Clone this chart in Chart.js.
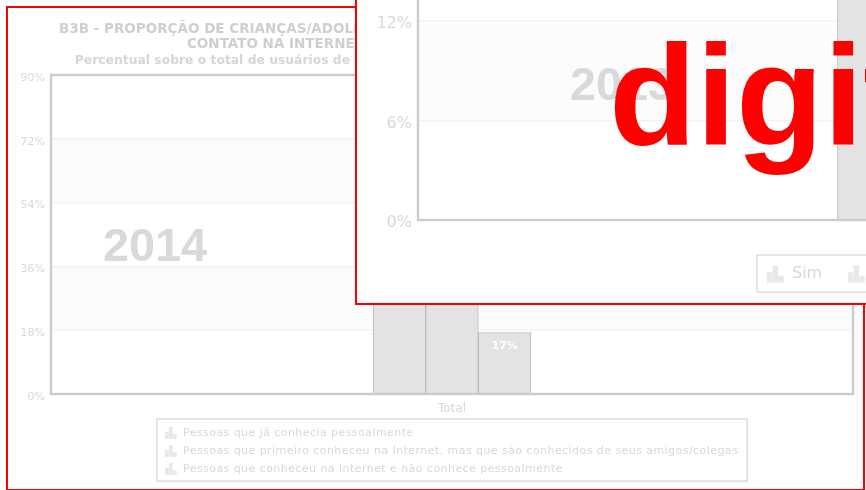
<!DOCTYPE html>
<html><head><meta charset="utf-8">
<script src="https://cdn.jsdelivr.net/npm/chart.js@4"></script>
<style>
html,body{margin:0;padding:0;background:#fff;width:866px;height:490px;overflow:hidden}
.panel{position:absolute;border:2px solid #f00;background:#fff;overflow:hidden;box-sizing:content-box}
#back{left:6px;top:6px;width:855px;height:481px}
#front{left:355px;top:-322px;width:1100px;height:623px}
canvas{display:block}
</style></head><body>
<div class="panel" id="back"><canvas id="c1" width="855" height="481"></canvas></div>
<div class="panel" id="front"><canvas id="c2" width="1100" height="623"></canvas></div>
<script>
const backTitle = ["B3B - PROPORÇÃO DE CRIANÇAS/ADOLESCENTES USUÁRIOS POR PESSOAS COM QUE TEVE ALGUM", "CONTATO NA INTERNET E QUE NÃO CONHECIAM PESSOALMENTE"];
const backSubtitle = "Percentual sobre o total de usuários de Internet de 9 a 17 anos que tiveram contato com tais pessoas";
const categories = ["Total"];
const backLabels = ["Pessoas que já conhecia pessoalmente",
  "Pessoas que primeiro conheceu na Internet, mas que são conhecidos de seus amigos/colegas",
  "Pessoas que conheceu na Internet e não conhece pessoalmente"];
const backValues = [46, 38, 17.3];   // only the third is legible, the others run behind the front panel
const frontLabels = ["Sim", "Não"];
const frontValues = [24, 22];        // tops are outside the picture
const backTicks = {max: 90, step: 18};
const frontTicks = {max: 30, step: 6};

const FILL = '#e3e3e3', EDGE = '#bababa', TXT = '#d8d8d8', AXIS = '#cbcbcb', GRID = '#f2f2f2', BAND = '#fcfcfc';

const decor = {
  id: 'decor',
  beforeDraw(chart, args, o) {
    const {ctx, chartArea: a, scales: {y}} = chart;
    ctx.save();
    ctx.fillStyle = BAND;
    o.bands.forEach(([lo, hi]) => {
      const t = y.getPixelForValue(hi), b = y.getPixelForValue(lo);
      ctx.fillRect(a.left, t, a.right - a.left, b - t);
    });
    ctx.fillStyle = '#d9d9d9';
    ctx.font = 'bold 46.8px "Liberation Sans"';
    ctx.textBaseline = 'alphabetic';
    ctx.fillText(o.stamp, o.stampX, o.stampY);
    ctx.restore();
  },
  afterDatasetsDraw(chart, args, o) {
    const {ctx, chartArea: a} = chart;
    ctx.save();
    ctx.strokeStyle = AXIS; ctx.lineWidth = 2.4;
    ctx.strokeRect(a.left, a.top, a.right - a.left, a.bottom - a.top);
    ctx.fillStyle = '#fff'; ctx.font = 'bold ' + o.labelSize + 'px "DejaVu Sans"';
    ctx.textAlign = 'center'; ctx.textBaseline = 'middle';
    chart.data.datasets.forEach((d, i) => {
      const el = chart.getDatasetMeta(i).data[0];
      ctx.fillText(Math.round(d.data[0]) + '%', el.x, el.y + o.labelGap);
    });
    ctx.restore();
  },
  afterDraw(chart, args, o) {
    const {ctx} = chart, L = o.legend;
    ctx.save();
    ctx.shadowColor = 'rgba(0,0,0,0.10)'; ctx.shadowBlur = 2; ctx.shadowOffsetX = 1; ctx.shadowOffsetY = 1;
    ctx.fillStyle = '#fff'; ctx.fillRect(L.x, L.y, L.w, L.h);
    ctx.shadowColor = 'transparent';
    ctx.strokeStyle = '#dedede'; ctx.lineWidth = 1.5; ctx.strokeRect(L.x, L.y, L.w, L.h);
    ctx.font = L.size + 'px "DejaVu Sans"'; ctx.textBaseline = 'middle';
    ctx.letterSpacing = L.spacing;
    chart.data.datasets.forEach((d, i) => {
      const ix = L.x + L.iconDx + (L.stepX || 0) * i, cy = L.y + L.firstY + (L.stepY || 0) * i;
      const u = L.icon, bw = u / 3;
      ctx.fillStyle = '#e8e8e8';
      [0.6, 1, 0.4].forEach((f, k) => ctx.fillRect(ix + k * bw, cy + u / 2 - u * f, bw - 0.3, u * f));
      ctx.fillStyle = TXT;
      ctx.fillText(d.label, ix + L.textDx, cy);
    });
    ctx.letterSpacing = '0px';
    if (o.big) {
      ctx.fillStyle = '#f00'; ctx.font = 'bold 143px "Liberation Sans"';
      ctx.textBaseline = 'alphabetic';
      ctx.fillText(o.big, o.bigX, o.bigY);
    }
    ctx.restore();
  }
};

function makeChart(id, labels, values, tickCfg, barW, tickSize, xSize, xH, yW, padding, plugOpts, title, subtitle) {
  return new Chart(document.getElementById(id), {
    type: 'bar',
    data: {labels: categories, datasets: labels.map((l, i) => ({
      label: l, data: [values[i]], backgroundColor: FILL, borderColor: EDGE, borderWidth: 1,
      barThickness: barW, categoryPercentage: 1, barPercentage: 1}))},
    options: {
      responsive: false, animation: false, events: [],
      layout: {padding},
      plugins: {
        legend: {display: false}, tooltip: {enabled: false},
        title: title ? {display: true, text: title, color: '#cfcfcf', font: {family: '"DejaVu Sans"', size: 13.5, weight: 'bold', lineHeight: 1.111}, padding: {top: 14, bottom: 1}} : {display: false},
        subtitle: subtitle ? {display: true, text: subtitle, color: '#d6d6d6', font: {family: '"DejaVu Sans"', size: 12.35, weight: 'bold', lineHeight: 1.215}, padding: {top: 0, bottom: 7}} : {display: false},
        decor: plugOpts
      },
      scales: {
        x: {grid: {display: false}, border: {display: false},
            ticks: {color: TXT, font: {family: '"DejaVu Sans"', size: xSize}, padding: 0, maxRotation: 0},
            afterFit(s) { s.height = xH; }},
        y: {min: 0, max: tickCfg.max, grid: {color: GRID, lineWidth: 1.5, drawTicks: false}, border: {display: false},
            ticks: {stepSize: tickCfg.step, color: TXT, font: {family: '"DejaVu Sans"', size: tickSize}, padding: 6, labelOffset: 3, callback: v => v + '%'},
            afterFit(s) { s.width = yW; }}
      }
    },
    plugins: [decor]
  });
}

makeChart('c1', backLabels, backValues, backTicks, 52.6, 11, 12, 94, 43, {left: 0, right: 10, top: 0, bottom: 1},
  {bands: [[54, 72], [18, 36]], stamp: '2014', stampX: 95, stampY: 253, labelSize: 10.8, labelGap: 14,
   legend: {x: 149, y: 411, w: 590, h: 62, iconDx: 8, firstY: 14, stepY: 18, icon: 12, textDx: 18, size: 11, spacing: '0.44px'}},
  backTitle, backSubtitle);

makeChart('c2', frontLabels, frontValues, frontTicks, 84, 16, 16, 83, 61, {left: 0, right: 32, top: 42.5, bottom: 0},
  {bands: [[6, 12], [18, 24]], stamp: '2013', stampX: 213, stampY: 420, labelSize: 15, labelGap: 18,
   big: 'digit', bigX: 252, bigY: 465,
   legend: {x: 400, y: 575, w: 250, h: 37, iconDx: 10, firstY: 19, stepX: 81, icon: 17, textDx: 25, size: 16, spacing: '0px'}},
  null, null);
</script>
</body></html>
